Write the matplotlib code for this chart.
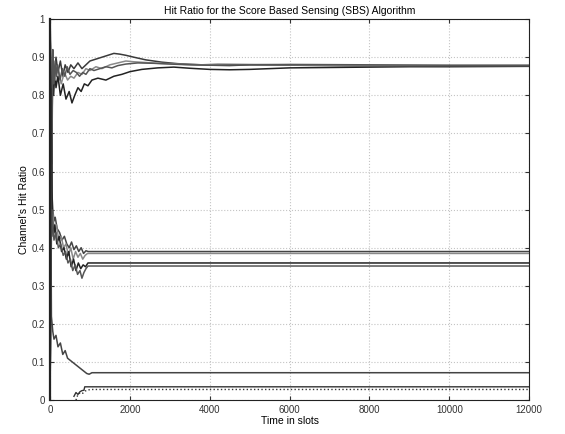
import matplotlib
matplotlib.use("Agg")
from matplotlib import pyplot as plt

plt.rcParams['font.family'] = ['Liberation Sans', 'DejaVu Sans']

# top group, converging to ~0.88
top1_x = [0, 40, 70, 100, 150, 200, 260, 320, 380, 450, 520, 600, 700, 800, 900, 1000, 1150, 1300, 1450,
          1600, 1750, 1900, 2100, 2400, 2800, 3200, 3600, 4000, 4500, 5000, 6000, 7000, 8000, 9000, 10000, 12000]
top1_y = [1.0, 0.62, 0.9, 0.84, 0.9, 0.86, 0.89, 0.85, 0.88, 0.86, 0.88, 0.87, 0.885, 0.87, 0.88, 0.89, 0.895,
          0.9, 0.905, 0.91, 0.908, 0.905, 0.9, 0.893, 0.887, 0.883, 0.881, 0.879, 0.878, 0.88, 0.879, 0.878,
          0.877, 0.877, 0.877, 0.877]

top2_x = [0, 60, 90, 120, 150, 200, 260, 330, 400, 480, 550, 620, 700, 780, 860, 950, 1050, 1200, 1400, 1600,
          1800, 2000, 2300, 2700, 3100, 3500, 4000, 4500, 5000, 5500, 6000, 7000, 8000, 9000, 10000, 12000]
top2_y = [0.0, 0.88, 0.8, 0.86, 0.82, 0.85, 0.8, 0.83, 0.79, 0.81, 0.78, 0.8, 0.82, 0.81, 0.83, 0.825, 0.84,
          0.845, 0.84, 0.85, 0.855, 0.862, 0.868, 0.872, 0.874, 0.871, 0.868, 0.867, 0.868, 0.87, 0.872, 0.873,
          0.874, 0.875, 0.875, 0.876]

top3_x = [0, 50, 90, 130, 200, 280, 360, 440, 520, 600, 700, 800, 900, 1000, 1150, 1300, 1500, 1700, 1900,
          2100, 2400, 2700, 3000, 3400, 3800, 4200, 5000, 6000, 7000, 8000, 10000, 12000]
top3_y = [1.0, 0.82, 0.88, 0.84, 0.87, 0.83, 0.86, 0.84, 0.85, 0.845, 0.86, 0.855, 0.87, 0.865, 0.875, 0.87,
          0.88, 0.885, 0.89, 0.888, 0.886, 0.884, 0.883, 0.881, 0.88, 0.882, 0.881, 0.88, 0.879, 0.878, 0.878,
          0.878]

top4_x = [0, 70, 100, 130, 160, 190, 250, 310, 370, 430, 500, 580, 660, 740, 820, 900, 1000, 1100, 1250, 1400,
          1550, 1700, 1900, 2200, 2600, 3000, 3500, 4000, 5000, 6000, 8000, 10000, 12000]
top4_y = [0.0, 0.92, 0.83, 0.89, 0.85, 0.88, 0.84, 0.87, 0.85, 0.875, 0.855, 0.865, 0.86, 0.85, 0.86, 0.855,
          0.87, 0.865, 0.87, 0.875, 0.872, 0.878, 0.882, 0.885, 0.884, 0.882, 0.88, 0.879, 0.88, 0.881, 0.88,
          0.879, 0.879]

# middle group, ~0.35-0.39
mid1_x = [0, 45, 70, 100, 130, 180, 240, 300, 360, 420, 480, 540, 600, 660, 720, 780, 840, 900, 960, 1000, 12000]
mid1_y = [1.0, 0.55, 0.5, 0.47, 0.48, 0.45, 0.44, 0.42, 0.43, 0.41, 0.4, 0.415, 0.395, 0.405, 0.39, 0.4,
          0.385, 0.392, 0.39, 0.39, 0.39]

mid2_x = [0, 30, 60, 110, 160, 220, 280, 340, 400, 460, 520, 580, 640, 700, 760, 820, 880, 940, 1000, 12000]
mid2_y = [0.0, 0.45, 0.5, 0.44, 0.46, 0.42, 0.43, 0.4, 0.41, 0.38, 0.4, 0.37, 0.39, 0.375, 0.385, 0.37, 0.38,
          0.385, 0.385, 0.385]

mid3_x = [0, 55, 80, 120, 170, 230, 290, 350, 410, 470, 530, 590, 650, 710, 770, 830, 890, 950, 1000, 12000]
mid3_y = [1.0, 0.48, 0.43, 0.46, 0.41, 0.43, 0.39, 0.4, 0.37, 0.39, 0.35, 0.37, 0.34, 0.36, 0.345, 0.355,
          0.35, 0.36, 0.36, 0.36]

mid4_x = [0, 40, 65, 100, 150, 210, 270, 330, 390, 450, 510, 570, 630, 690, 750, 800, 850, 900, 950, 1000,
          12000]
mid4_y = [0.0, 0.5, 0.46, 0.42, 0.44, 0.4, 0.41, 0.38, 0.39, 0.36, 0.37, 0.34, 0.355, 0.33, 0.34, 0.32,
          0.335, 0.345, 0.352, 0.352, 0.352]

# low group
low1_x = [0, 35, 70, 100, 150, 200, 260, 320, 380, 440, 500, 560, 620, 680, 740, 800, 860, 920, 980, 1050,
          12000]
low1_y = [1.0, 0.22, 0.18, 0.16, 0.17, 0.14, 0.15, 0.12, 0.13, 0.11, 0.105, 0.1, 0.095, 0.09, 0.085, 0.08,
          0.075, 0.07, 0.068, 0.072, 0.072]

low2_x = [600, 650, 700, 750, 800, 850, 870, 12000]
low2_y = [0.01, 0.02, 0.015, 0.022, 0.025, 0.026, 0.035, 0.035]

low3_x = [650, 700, 760, 820, 880, 950, 1000, 12000]
low3_y = [0.0, 0.015, 0.02, 0.018, 0.024, 0.026, 0.028, 0.028]

fig = plt.figure(figsize=(5.65, 4.34), dpi=100)
ax = fig.add_axes([0.0885, 0.078, 0.848, 0.878])

ax.plot(top1_x, top1_y, color='#3a3a3a', lw=1.1)
ax.plot(top2_x, top2_y, color='#222222', lw=1.1)
ax.plot(top3_x, top3_y, color='#8a8a8a', lw=1.1)
ax.plot(top4_x, top4_y, color='#555555', lw=1.1)

ax.plot(mid1_x, mid1_y, color='#444444', lw=1.1)
ax.plot(mid2_x, mid2_y, color='#888888', lw=1.1)
ax.plot(mid3_x, mid3_y, color='#222222', lw=1.1)
ax.plot(mid4_x, mid4_y, color='#555555', lw=1.1)

ax.plot(low1_x, low1_y, color='#444444', lw=1.1)
ax.plot(low2_x, low2_y, color='#333333', lw=1.0)
ax.plot(low3_x, low3_y, color='#333333', lw=1.0, ls=':')

ax.set_xlim(0, 12000)
ax.set_ylim(0, 1)
ax.set_xticks(range(0, 12001, 2000))
ax.set_yticks([i / 10 for i in range(11)])
ax.set_yticklabels(['0', '0.1', '0.2', '0.3', '0.4', '0.5', '0.6', '0.7', '0.8', '0.9', '1'])
ax.tick_params(direction='in', top=True, right=True, labelsize=7, length=3, colors='#333333')
ax.grid(True, ls=':', color='#c4c4c4', lw=0.8)
for s in ax.spines.values():
    s.set_color('#222222')
ax.spines['left'].set_linewidth(1.6)

ax.set_title("Hit Ratio for the Score Based Sensing (SBS) Algorithm", fontsize=7.5, pad=4)
ax.set_xlabel("Time in slots", fontsize=7.5, labelpad=1)
ax.set_ylabel("Channel's Hit Ratio", fontsize=7.5, labelpad=2)

fig.savefig('out.png', dpi=100)
